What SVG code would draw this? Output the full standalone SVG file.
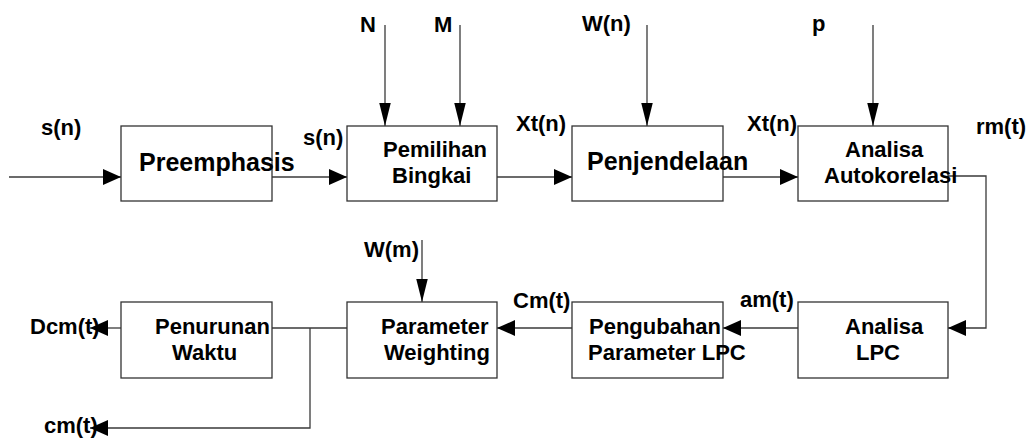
<svg xmlns="http://www.w3.org/2000/svg" width="1034" height="438" viewBox="0 0 1034 438">
<style>
.box{fill:#fff;stroke:#333;stroke-width:1.3}
.ln{fill:none;stroke:#3a3a3a;stroke-width:1.3}
text{font-family:"Liberation Sans",Arial,sans-serif;font-weight:bold;fill:#000}
.lb{font-size:22px}
.t2{font-size:22px}
.t1{font-size:25px}
</style>
<defs>
<marker id="ah" markerUnits="userSpaceOnUse" markerWidth="18" markerHeight="16" refX="17" refY="7.5" orient="auto" viewBox="0 0 17 15">
<path d="M0,0 L17,7.5 L0,15 Z" fill="#000"/>
</marker>
<marker id="av" markerUnits="userSpaceOnUse" markerWidth="23" markerHeight="12" refX="22" refY="5.5" orient="auto" viewBox="0 0 22 11">
<path d="M0,0 L22,5.5 L0,11 Z" fill="#000"/>
</marker>
</defs>
<g id="connectors">
<path class="ln" d="M9,177 H121" marker-end="url(#ah)"/>
<path class="ln" d="M272,177 H347" marker-end="url(#ah)"/>
<path class="ln" d="M497,177 H572" marker-end="url(#ah)"/>
<path class="ln" d="M723,177 H798" marker-end="url(#ah)"/>
<path class="ln" d="M385,25 V126" marker-end="url(#av)"/>
<path class="ln" d="M460,25 V126" marker-end="url(#av)"/>
<path class="ln" d="M647,25 V126" marker-end="url(#av)"/>
<path class="ln" d="M873,25 V126" marker-end="url(#av)"/>
<path class="ln" d="M948,176 H986 V328 H948" marker-end="url(#ah)"/>
<path class="ln" d="M798,328 H723" marker-end="url(#ah)"/>
<path class="ln" d="M572,328 H497" marker-end="url(#ah)"/>
<path class="ln" d="M422,240 V302" marker-end="url(#av)"/>
<path class="ln" d="M347,328 H272"/>
<path class="ln" d="M121,328 H90" marker-end="url(#ah)"/>
<path class="ln" d="M310,328 V428 H90" marker-end="url(#ah)"/>
</g>
<g id="preemphasis"><rect class="box" x="121" y="126" width="151" height="75"/><text class="t1" x="139" y="171">Preemphasis</text></g>
<g id="pemilihan-bingkai"><rect class="box" x="347" y="126" width="150" height="75"/><text class="t2" x="383" y="157">Pemilihan</text><text class="t2" x="392" y="183">Bingkai</text></g>
<g id="penjendelaan"><rect class="box" x="572" y="126" width="151" height="75"/><text class="t1" x="587" y="170">Penjendelaan</text></g>
<g id="analisa-autokorelasi"><rect class="box" x="798" y="126" width="150" height="75"/><text class="t2" x="845" y="157">Analisa</text><text class="t2" x="824" y="183">Autokorelasi</text></g>
<g id="penurunan-waktu"><rect class="box" x="121" y="302" width="151" height="76"/><text class="t2" x="155" y="334">Penurunan</text><text class="t2" x="172" y="360">Waktu</text></g>
<g id="parameter-weighting"><rect class="box" x="347" y="302" width="150" height="76"/><text class="t2" x="381" y="334">Parameter</text><text class="t2" x="384" y="360">Weighting</text></g>
<g id="pengubahan-parameter-lpc"><rect class="box" x="572" y="302" width="151" height="76"/><text class="t2" x="589" y="334">Pengubahan</text><text class="t2" x="588" y="360">Parameter LPC</text></g>
<g id="analisa-lpc"><rect class="box" x="798" y="302" width="150" height="76"/><text class="t2" x="845" y="334">Analisa</text><text class="t2" x="856" y="360">LPC</text></g>
<g id="labels">
<text class="lb" x="41" y="135">s(n)</text>
<text class="lb" x="303" y="145">s(n)</text>
<text class="lb" x="516" y="131">Xt(n)</text>
<text class="lb" x="747" y="131">Xt(n)</text>
<text class="lb" x="976" y="134">rm(t)</text>
<text class="lb" x="360" y="32">N</text>
<text class="lb" x="434" y="32">M</text>
<text class="lb" x="582" y="31">W(n)</text>
<text class="lb" x="812" y="31">p</text>
<text class="lb" x="364" y="257">W(m)</text>
<text class="lb" x="513" y="308">Cm(t)</text>
<text class="lb" x="740" y="307">am(t)</text>
<text class="lb" x="30" y="334">Dcm(t)</text>
<text class="lb" x="44" y="433">cm(t)</text>
</g>
</svg>
